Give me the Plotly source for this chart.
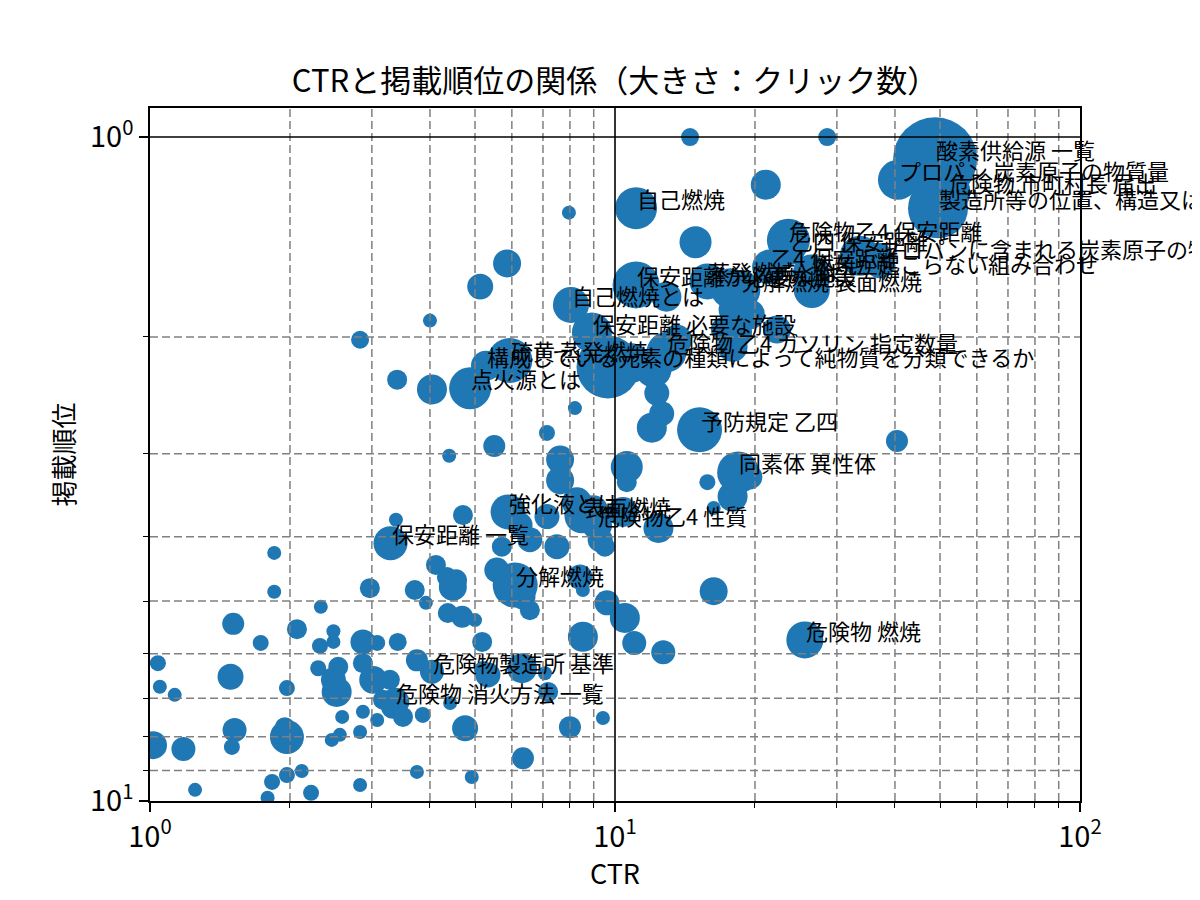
import numpy as np
import plotly.graph_objects as go

# ラベルを表示するクエリ（クリック数上位）
queries = [
    "酸素供給源 一覧", "プロパン 炭素原子の物質量", "危険物 市町村長 届出",
    "製造所等の位置、構造又は設備", "危険物乙4 保安距離", "乙四 保安距離",
    "プロパンに含まれる炭素原子の物質量", "乙4 保安距離", "燃焼が起こらない組み合わせ",
    "保安距離が必要な施設", "蒸発燃焼とは", "分解燃焼 表面燃焼", "自己燃焼",
    "自己燃焼とは", "保安距離 必要な施設", "硫黄 蒸発燃焼",
    "構成している元素の種類によって純物質を分類できるか",
    "危険物 乙4 ガソリン 指定数量", "点火源とは", "予防規定 乙四", "同素体 異性体",
    "強化液とは", "表面燃焼", "危険物乙4 性質", "保安距離 一覧", "分解燃焼",
    "危険物 燃焼", "危険物製造所 基準", "危険物 消火方法 一覧",
]
q_ctr = [48.8, 40.6, 52.0, 49.5, 23.6, 23.8, 36.8, 21.5, 26.4, 11.1, 15.8, 18.6, 11.1,
         8.04, 8.92, 5.94, 5.28, 12.9, 4.88, 15.2, 18.4, 5.89, 8.49, 9.15, 3.29, 6.10,
         25.6, 4.04, 3.37]
q_position = [1.08, 1.16, 1.21, 1.28, 1.43, 1.48, 1.52, 1.57, 1.60, 1.67, 1.65, 1.70, 1.28,
              1.79, 1.97, 2.17, 2.21, 2.11, 2.39, 2.76, 3.20, 3.67, 3.72, 3.84, 4.09, 4.73,
              5.72, 6.39, 7.09]
q_clicks = [4900, 1111, 1406, 2500, 1284, 625, 625, 851, 900, 1534, 900, 1111, 1225,
            900, 1111, 1406, 625, 1111, 1225, 1406, 1225, 851, 851, 625, 803, 1406,
            950, 400, 544]

# その他のクエリ
other_ctr = [
    14.5, 28.6, 7.96, 21.1, 14.9, 5.86, 5.13, 4.00, 2.83, 3.40, 4.04, 8.20, 7.14, 5.50, 4.40,
    9.66, 10.8, 12.1, 12.3, 12.6, 12.0, 13.6, 17.9, 19.5, 17.7, 17.9, 17.1, 22.3, 18.3, 12.9,
    37.2, 33.6, 26.5, 40.4, 10.6, 10.6, 15.8, 19.5, 17.9, 16.3, 10.4, 12.4, 9.51, 9.29, 16.3,
    9.61, 10.5, 11.0, 12.7, 9.42, 8.53, 8.41, 8.53, 7.62, 7.62, 8.28, 8.97, 7.14, 6.25, 6.56,
    5.71, 7.50, 4.71, 5.57, 6.34, 6.56, 4.35, 4.12, 4.55, 4.48, 3.71, 3.92, 4.37, 4.69, 5.00,
    5.18, 3.38, 2.97, 1.85, 1.85, 2.33, 1.51, 1.73, 2.07, 2.32, 2.48, 2.48, 2.87, 3.08, 3.41,
    1.04, 1.05, 1.13, 1.49, 1.97, 2.30, 2.54, 2.48, 2.52, 2.87, 3.02, 3.28, 3.17, 3.33, 3.50,
    3.08, 2.87, 2.59, 3.86, 3.75, 4.42, 4.76, 5.20, 5.33, 6.31, 7.07, 7.18, 8.00, 6.34, 4.92,
    3.75, 2.83, 2.22, 2.12, 1.97, 1.83, 1.79, 1.25, 1.18, 1.015, 1.50, 1.52, 1.97, 1.95, 2.46,
    2.56, 2.83,
]
other_position = [
    1.00, 1.00, 1.30, 1.18, 1.44, 1.55, 1.68, 1.89, 2.02, 2.32, 2.40, 2.56, 2.79, 2.92, 3.02,
    2.22, 2.19, 2.24, 2.43, 2.61, 2.74, 2.02, 2.07, 1.85, 1.69, 1.82, 1.95, 1.95, 1.97, 1.74,
    1.55, 1.51, 1.70, 2.87, 3.14, 3.31, 3.31, 3.25, 3.48, 3.62, 3.67, 3.88, 4.14, 4.04, 4.83,
    5.03, 5.30, 5.78, 5.97, 7.50, 5.66, 4.60, 4.81, 3.06, 3.29, 3.55, 3.65, 3.73, 3.84, 4.04,
    4.14, 4.14, 3.71, 4.49, 4.93, 5.16, 4.60, 4.41, 4.65, 4.76, 4.81, 5.03, 5.21, 5.28, 5.34,
    5.76, 3.77, 4.78, 4.23, 4.84, 5.10, 5.41, 5.78, 5.51, 5.84, 5.55, 5.76, 5.76, 5.78, 5.76,
    6.20, 6.73, 6.92, 6.50, 6.76, 6.31, 6.28, 6.57, 6.85, 6.20, 6.57, 6.57, 7.04, 7.21, 7.47,
    7.55, 7.34, 7.47, 7.42, 6.14, 7.12, 7.77, 6.35, 6.46, 6.31, 6.42, 6.85, 7.74, 8.62, 9.20,
    9.04, 9.46, 9.72, 9.01, 9.14, 9.36, 9.89, 9.62, 8.35, 8.24, 8.29, 7.82, 8.01, 7.74, 8.09,
    7.95, 7.87,
]
other_clicks = [
    225, 225, 136, 625, 711, 544, 469, 136, 225, 278, 625, 136, 178, 336, 136,
    2756, 1111, 900, 434, 434, 625, 625, 625, 625, 1111, 544, 434, 544, 625, 625,
    625, 1111, 900, 336, 711, 278, 178, 434, 625, 136, 625, 625, 278, 434, 544,
    434, 625, 400, 400, 136, 625, 434, 136, 544, 544, 625, 625, 434, 434, 434,
    278, 434, 278, 434, 434, 278, 278, 278, 336, 544, 278, 136, 278, 336, 136,
    278, 136, 278, 136, 136, 136, 336, 178, 278, 178, 136, 136, 434, 178, 225,
    178, 136, 136, 469, 178, 178, 278, 434, 625, 278, 544, 278, 278, 400, 278,
    136, 136, 136, 178, 336, 136, 469, 225, 434, 625, 136, 278, 336, 336, 136,
    136, 136, 178, 136, 178, 178, 136, 136, 400, 544, 178, 400, 803, 278, 136,
    136, 136,
]

ctr = q_ctr + other_ctr
position = q_position + other_position
clicks = q_clicks + other_clicks

FONT = "Noto Sans CJK JP"

fig = go.Figure()
fig.add_trace(go.Scatter(
    x=ctr, y=position, mode="markers",
    marker=dict(size=np.sqrt(np.array(clicks)) * 1.2, color="#1f77b4", opacity=1,
                line=dict(width=0)),
    hoverinfo="skip", showlegend=False,
))

# ラベル（log軸なので注釈の座標はlog10）
for q, cx, cy in zip(queries, q_ctr, q_position):
    fig.add_annotation(x=np.log10(cx), y=np.log10(cy), text=q, showarrow=False,
                       xanchor="left", yanchor="bottom", yshift=-8, xshift=-1,
                       font=dict(family=FONT, size=22, color="black"))

# グリッド（点の上に描く）
minor_x = [m * 10 ** e for e in range(2) for m in range(2, 10)]
minor_y = [m for m in range(2, 10)]
for v in minor_x:
    fig.add_shape(type="line", xref="x", yref="y domain", x0=v, x1=v, y0=0, y1=1,
                  line=dict(color="#808080", width=1.5, dash="8px,4px"), layer="above")
for v in minor_y:
    fig.add_shape(type="line", xref="x domain", yref="y", x0=0, x1=1, y0=v, y1=v,
                  line=dict(color="#808080", width=1.5, dash="8px,4px"), layer="above")
fig.add_shape(type="line", xref="x", yref="y domain", x0=10, x1=10, y0=0, y1=1,
              line=dict(color="black", width=1.6), layer="above")
fig.add_shape(type="line", xref="x domain", yref="y", x0=0, x1=1, y0=1, y1=1,
              line=dict(color="black", width=1.6), layer="above")

axis_common = dict(
    type="log", showgrid=False, zeroline=False,
    showline=True, mirror=True, linecolor="black", linewidth=1.6,
    ticks="outside", ticklen=9, tickwidth=1.6, tickcolor="black",
    tickfont=dict(family=FONT, size=29, color="black"),
    layer="above traces",
)
fig.update_xaxes(
    range=[0, 2], tickvals=[1, 10, 100],
    ticktext=["10<sup>0</sup>", "10<sup>1</sup>", "10<sup>2</sup>"],
    minor=dict(tickvals=minor_x, ticks="outside", ticklen=5, tickwidth=1.2,
               tickcolor="black", showgrid=False),
    **axis_common,
)
fig.update_yaxes(
    range=[1, -0.0437], tickvals=[1, 10],
    ticktext=["10<sup>0</sup>", "10<sup>1</sup>"],
    minor=dict(tickvals=minor_y, ticks="outside", ticklen=5, tickwidth=1.2,
               tickcolor="black", showgrid=False),
    **axis_common,
)

fig.add_annotation(text="CTR", xref="paper", yref="paper", x=0.5, y=-0.1025,
                   showarrow=False, xanchor="center", yanchor="middle",
                   font=dict(family=FONT, size=27, color="black"))
fig.add_annotation(text="掲載順位", xref="paper", yref="paper", x=-0.0946, y=0.5,
                   textangle=-90, showarrow=False, xanchor="center", yanchor="middle",
                   font=dict(family=FONT, size=26, color="black"))

# ページの余白(8px)の分だけ図を小さくする
fig.update_layout(
    width=1192, height=892,
    margin=dict(l=142, r=120, t=100, b=99),
    paper_bgcolor="white", plot_bgcolor="white",
    title=dict(text="CTRと掲載順位の関係（大きさ：クリック数）", x=607 / 1192, xref="container",
               y=1 - 73 / 892, yref="container", xanchor="center", yanchor="middle",
               font=dict(family=FONT, size=31, color="black")),
    font=dict(family=FONT),
)

fig.write_html("out.html")
